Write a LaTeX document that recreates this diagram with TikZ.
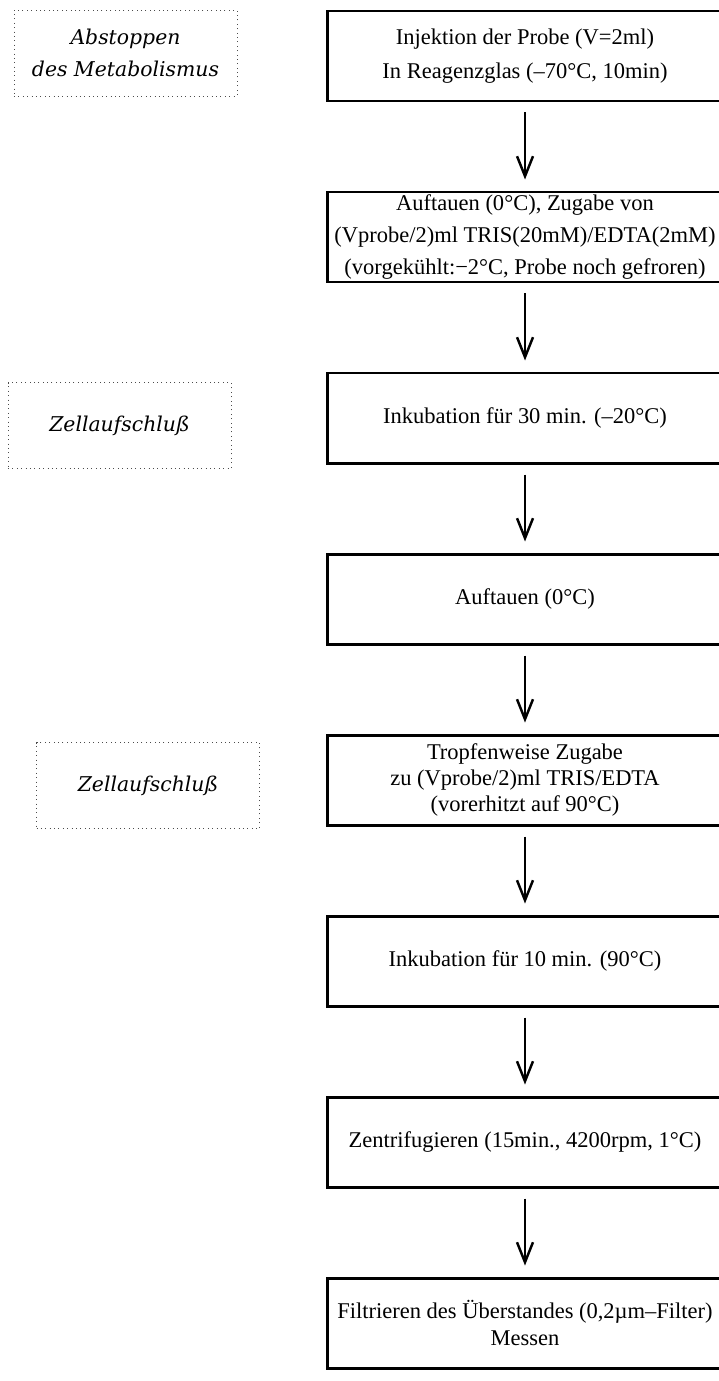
\documentclass[tikz,border=0pt]{standalone}
\usepackage{fontspec}
\setmainfont{Liberation Serif}
\newfontfamily\kursiv{DejaVu Serif}
\usetikzlibrary{arrows.meta, positioning}

\begin{document}
\begin{tikzpicture}[
  schritt/.style={draw, line width=1.7pt, minimum width=7.9cm, minimum height=1.8cm,
    inner xsep=2pt, inner ysep=0pt, align=center, font=\fontsize{12.8}{15}\selectfont},
  phase/.style={draw=black!70, dotted, line width=0.5pt, minimum width=4.46cm,
    minimum height=1.72cm, align=center, text=black, font=\kursiv\itshape\fontsize{11.6}{18.5}\selectfont},
  pfeil/.style={-{Straight Barb[length=4mm, width=3.2mm, line width=1.4pt]}, line width=1.3pt,
    shorten <=0.2cm, shorten >=0.22cm}
]
  \useasboundingbox (0,0) rectangle (14.38,-27.62);
  % arbeitsschritte
  \node[schritt] (injektion) at (10.5,-1.12)
    {Injektion der Probe (V=2ml)\\[4pt] In Reagenzglas (–70°C, 10min)};
  \node[schritt] (zugabe) at (10.5,-4.74)
    {Auftauen (0°C), Zugabe von\\[3pt](Vprobe/2)ml TRIS(20mM)/EDTA(2mM)\\[3pt](vorgekühlt:−2°C, Probe noch gefroren)};
  \node[schritt] (inkubkalt) at (10.5,-8.36) {Inkubation für 30 min. (–20°C)};
  \node[schritt] (auftauen) at (10.5,-11.98) {Auftauen (0°C)};
  \node[schritt] (tropfen) at (10.5,-15.60)
    {Tropfenweise Zugabe\\zu (Vprobe/2)ml TRIS/EDTA\\(vorerhitzt auf 90°C)};
  \node[schritt] (inkubheiss) at (10.5,-19.22) {Inkubation für 10 min. (90°C)};
  \node[schritt] (zentri) at (10.5,-22.84) {Zentrifugieren (15min., 4200rpm, 1°C)};
  \node[schritt] (filter) at (10.5,-26.46)
    {Filtrieren des Überstandes (0,2µm–Filter)\\Messen};
  % phasen links
  \node[phase] (abstoppen) at (2.51,-1.06) {Abstoppen\\des Metabolismus};
  \node[phase] (aufschluss1) at (2.39,-8.51) {Zellaufschluß};
  \node[phase] (aufschluss2) at (2.96,-15.71) {Zellaufschluß};
  % pfeile
  \draw[pfeil] (injektion) -- (zugabe);
  \draw[pfeil] (zugabe) -- (inkubkalt);
  \draw[pfeil] (inkubkalt) -- (auftauen);
  \draw[pfeil] (auftauen) -- (tropfen);
  \draw[pfeil] (tropfen) -- (inkubheiss);
  \draw[pfeil] (inkubheiss) -- (zentri);
  \draw[pfeil] (zentri) -- (filter);
\end{tikzpicture}
\end{document}
